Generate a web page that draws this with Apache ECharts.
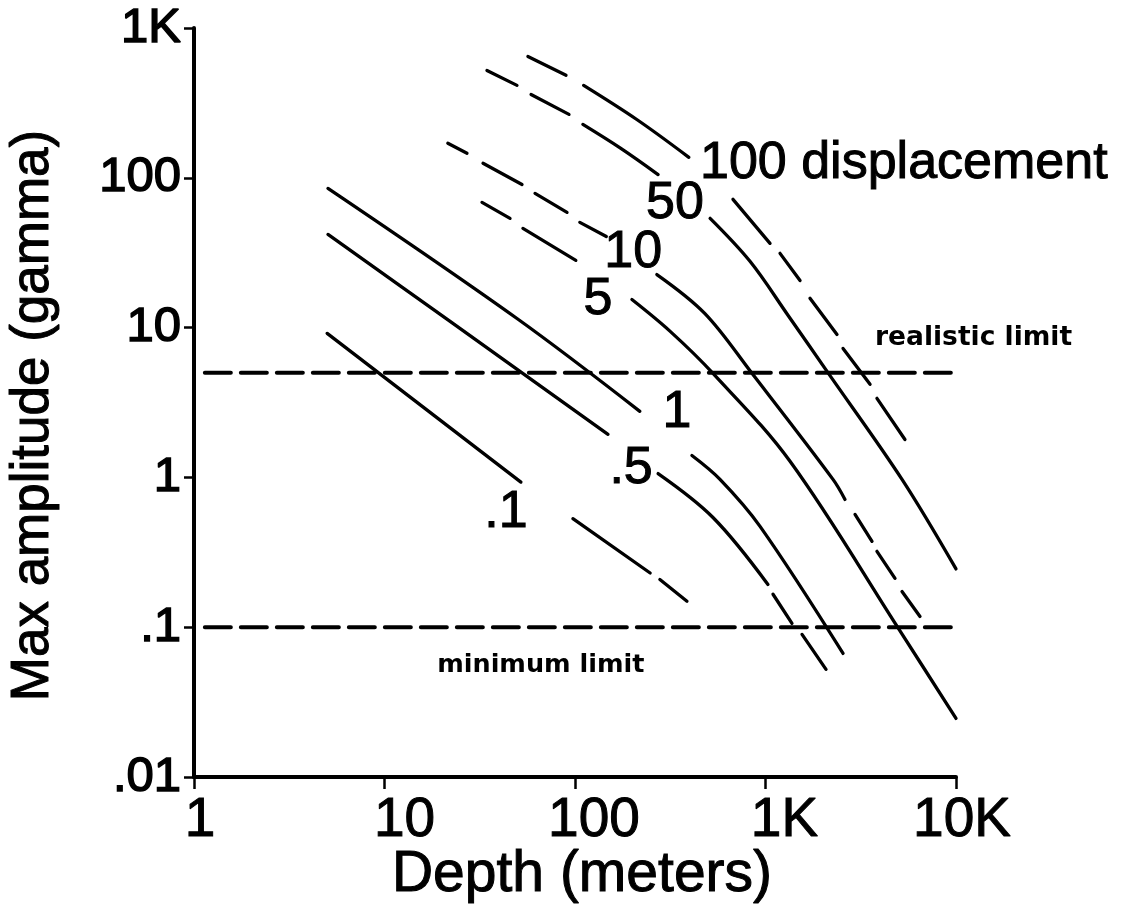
<!DOCTYPE html>
<html>
<head>
<meta charset="utf-8">
<title>Max amplitude vs depth</title>
<script src="https://cdn.jsdelivr.net/npm/echarts@6/dist/echarts.min.js"></script>
<style>
  html, body { margin: 0; padding: 0; background: #fff; }
  #chart { width: 1136px; height: 924px; }
</style>
</head>
<body>
<div id="chart"></div>
<script>
// Axis tick labels, indexed by decade exponent
const depthTickLabels = ['1', '10', '100', '1K', '10K'];        // 10^0 .. 10^4
const ampTickLabels = ['.01', '.1', '1', '10', '100', '1K'];    // 10^-2 .. 10^3

// Contours of constant displacement: each is a list of pen strokes,
// every stroke a list of [depth (m), max amplitude (gamma)] points.
const curve100 = [
  [[56.6, 646], [89.7, 483]],
  [[111, 414], [211, 245], [396, 137]],
  [[675, 71.8], [1056, 36.5]],
  [[1192, 31.3], [1518, 20.6]],
  [[1712, 15.7], [2373, 9.0]],
  [[2553, 7.26], [3538, 4.18]],
  [[3846, 3.37], [5395, 1.79]]
];
const curve50 = [
  [[34.5, 521], [49.6, 414]],
  [[58.8, 360], [93, 265]],
  [[110, 227], [174, 157], [273, 105]],
  [[512, 53.6], [829, 27.7], [1312, 12.1], [2104, 5.1], [5207, 0.97], [10000, 0.245]]
];
const curve10 = [
  [[21.5, 170], [27.1, 146]],
  [[32.9, 125], [52.7, 90.3]],
  [[61.7, 78.7], [90.8, 58.8]],
  [[106, 50.4], [146, 40.6]],
  [[269, 22.6], [481, 12.4], [849, 4.95], [2261, 0.97], [2614, 0.713]],
  [[2951, 0.566], [3623, 0.374]],
  [[3846, 0.321], [4784, 0.212]],
  [[5207, 0.173], [6471, 0.118]]
];
const curve5 = [
  [[32.5, 68.5], [45.6, 53.6]],
  [[53.3, 45.9], [101, 28.1]],
  [[199, 15.4], [316, 9.44], [530, 4.95], [1345, 1.28], [5023, 0.0966], [10000, 0.0246]]
];
const curve1 = [
  [[5.05, 85], [49.6, 11.5], [219, 2.76]],
  [[411, 1.40], [577, 0.97], [936, 0.471], [2553, 0.0668]]
];
const curve05 = [
  [[5.05, 41.9], [22.1, 11.0], [149, 1.94]],
  [[273, 1.06], [530, 0.54], [1030, 0.193]],
  [[1095, 0.166], [1377, 0.106]],
  [[1555, 0.0895], [2078, 0.0523]]
];
const curve01 = [
  [[5.0, 9.15], [52, 0.93]],
  [[97.5, 0.53], [248, 0.23]],
  [[279, 0.208], [387, 0.149]]
];

// Horizontal limits (gamma)
const realisticLimit = [[1.14, 5], [10000, 5]];
const minimumLimit = [[1.14, 0.1], [10000, 0.1]];

// Contour labels: [text, depth, amplitude, anchor]
const curveLabels = [
  ['100 displacement', 453, 125, 'left'],
  ['50', 335, 67.5, 'center'],
  ['10', 202, 31.8, 'center'],
  ['5', 132, 15.4, 'center'],
  ['1', 343, 2.72, 'center'],
  ['.5', 197, 1.15, 'center'],
  ['.1', 43.4, 0.584, 'center']
];
const limitLabels = [
  ['realistic limit', 3758, 8.47, 26.5],
  ['minimum limit', 18.9, 0.0556, 25.5]
];

const INK = '#000';
const SANS = '"Liberation Sans", Arial, Helvetica, sans-serif';
const BOLD = '"DejaVu Sans", sans-serif';

function decade(v) { return Math.round(Math.log10(v)); }

// hand-lettered depth labels sit a little right of their ticks
const depthLabelNudge = [6, 20, 19, 19, 6];
const depthRich = {};
depthLabelNudge.forEach(function (n, i) {
  depthRich['d' + i] = { padding: [0, 0, 0, 2 * n] };
});

const series = [];
[curve100, curve50, curve10, curve5, curve1, curve05, curve01].forEach(function (curve) {
  curve.forEach(function (stroke) {
    series.push({
      type: 'line',
      data: stroke,
      smooth: 0.35,
      showSymbol: false,
      silent: true,
      lineStyle: { color: INK, width: 3.3, cap: 'round' }
    });
  });
});

[realisticLimit, minimumLimit].forEach(function (lim) {
  series.push({
    type: 'line',
    data: lim,
    showSymbol: false,
    silent: true,
    lineStyle: { color: INK, width: 4, type: [26, 10], cap: 'round' }
  });
});

series.push({
  type: 'scatter',
  symbolSize: 0,
  silent: true,
  clip: false,
  itemStyle: { color: INK, opacity: 1 },
  data: curveLabels.map(function (l) {
    return {
      value: [l[1], l[2]],
      name: l[0],
      label: { align: l[3] }
    };
  }),
  label: {
    show: true,
    position: [0, 0],
    formatter: '{b}',
    verticalAlign: 'middle',
    color: INK,
    fontFamily: SANS,
    fontSize: 52,
    textBorderColor: INK,
    textBorderWidth: 1
  }
});

series.push({
  type: 'scatter',
  symbolSize: 0,
  silent: true,
  clip: false,
  itemStyle: { color: INK, opacity: 1 },
  data: limitLabels.map(function (l) {
    return { value: [l[1], l[2]], name: l[0], label: { fontSize: l[3] } };
  }),
  label: {
    show: true,
    position: [0, 0],
    formatter: '{b}',
    align: 'left',
    verticalAlign: 'middle',
    color: INK,
    fontFamily: BOLD,
    fontWeight: 'bold',
    fontSize: 26
  }
});

const chart = echarts.init(document.getElementById('chart'), null, { renderer: 'canvas' });
chart.setOption({
  backgroundColor: '#fff',
  animation: false,
  grid: { left: 194, right: 180, top: 28, bottom: 147, containLabel: false, outerBoundsMode: 'none' },
  xAxis: {
    type: 'log',
    logBase: 10,
    min: 1,
    max: 10000,
    name: 'Depth (meters)',
    nameLocation: 'middle',
    nameGap: 70,
    nameMoveOverlap: false,
    nameTextStyle: {
      color: INK, fontFamily: SANS, fontSize: 57, verticalAlign: 'top',
      padding: [0, 0, 0, 14], textBorderColor: INK, textBorderWidth: 1
    },
    axisLine: { show: true, lineStyle: { color: INK, width: 4 } },
    axisTick: { show: true, length: 12, inside: false, lineStyle: { color: INK, width: 2.5 } },
    minorTick: { show: false },
    splitLine: { show: false },
    axisLabel: {
      color: INK,
      fontFamily: SANS,
      fontSize: 55,
      margin: 16,
      textBorderColor: INK,
      textBorderWidth: 1,
      rich: depthRich,
      formatter: function (v) {
        const i = decade(v);
        return '{d' + i + '|' + depthTickLabels[i] + '}';
      }
    }
  },
  yAxis: {
    type: 'log',
    logBase: 10,
    min: 0.01,
    max: 1000,
    name: 'Max amplitude (gamma)',
    nameLocation: 'middle',
    nameRotate: 90,
    nameGap: 134,
    nameMoveOverlap: false,
    nameTextStyle: {
      color: INK, fontFamily: SANS, fontSize: 53, verticalAlign: 'bottom',
      padding: [0, 26, 0, 0], textBorderColor: INK, textBorderWidth: 1
    },
    axisLine: { show: true, lineStyle: { color: INK, width: 4 } },
    axisTick: { show: true, length: 10, inside: false, lineStyle: { color: INK, width: 2.5 } },
    minorTick: { show: false },
    splitLine: { show: false },
    axisLabel: {
      color: INK,
      fontFamily: SANS,
      fontSize: 49,
      margin: 13,
      textBorderColor: INK,
      textBorderWidth: 1.5,
      formatter: function (v) { return ampTickLabels[decade(v) + 2]; }
    }
  },
  series: series
});
</script>
</body>
</html>
